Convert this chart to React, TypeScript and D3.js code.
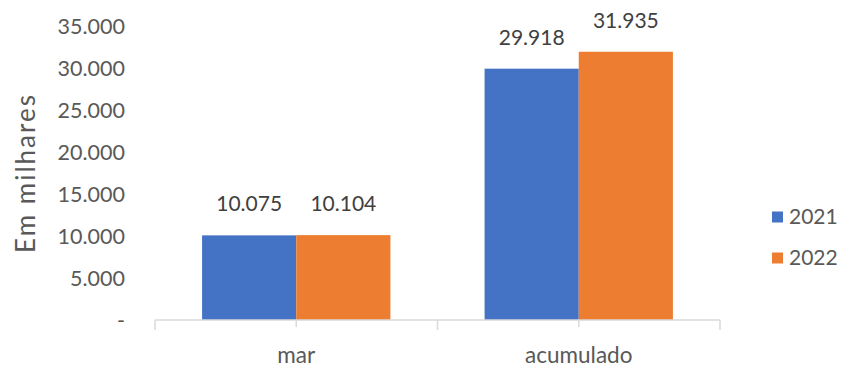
import React from "react";
import * as d3 from "d3";

const categories = ["mar", "acumulado"];
const seriesNames = ["2021", "2022"];
const values2021 = [10075, 29918];
const values2022 = [10104, 31935];
const yTicks = [0, 5000, 10000, 15000, 20000, 25000, 30000, 35000];
const colors = ["#4472C4", "#ED7D31"];

const W = 846, H = 369;
const font = "Lato, 'Open Sans', sans-serif";

const fmt = (v: number) => (v === 0 ? "-" : d3.format(",")(v).replace(/,/g, "."));

export default function App() {
  const x = d3.scaleBand<string>().domain(categories).range([155, 720]).paddingInner(0).paddingOuter(0);
  const y = d3.scaleLinear().domain([0, 35000]).range([320, 26]);
  const sub = d3.scaleBand<string>().domain(seriesNames).range([0, x.bandwidth()]).paddingInner(0).paddingOuter(0.5);
  const series = [values2021, values2022];
  const bottom = y(0);
  return (
    <svg width={W} height={H} style={{ position: "absolute", left: 0, top: 0, background: "#fff" }} fontFamily={font}>
      {yTicks.map((t) => (
        <text key={t} x={125} y={y(t)} dy="0.35em" textAnchor="end" fontSize={21.5} fill="#595959">{fmt(t)}</text>
      ))}
      <text transform={`translate(35,173) rotate(-90)`} textAnchor="middle" fontSize={26} letterSpacing={2} fill="#595959">Em milhares</text>
      {categories.map((c, i) => (
        <g key={c}>
          {series.map((s, j) => {
            const bx = (x(c) as number) + (sub(seriesNames[j]) as number);
            return (
              <g key={j}>
                <rect x={bx} y={y(s[i])} width={sub.bandwidth()} height={bottom - y(s[i])} fill={colors[j]} />
                <text x={bx + sub.bandwidth() / 2} y={y(s[i]) - 24} textAnchor="middle" fontSize={21} fill="#404040">{fmt(s[i])}</text>
              </g>
            );
          })}
          <text x={(x(c) as number) + x.bandwidth() / 2} y={355} dy="0.35em" textAnchor="middle" fontSize={22.5} fill="#595959">{c}</text>
        </g>
      ))}
      <line x1={155} x2={720} y1={bottom} y2={bottom} stroke="#d9d9d9" strokeWidth={1.5} />
      {[...categories.map((c) => x(c) as number), 720].map((tx, i) => (
        <line key={"t" + i} x1={tx} x2={tx} y1={bottom} y2={bottom + 10} stroke="#d9d9d9" strokeWidth={1.5} />
      ))}
      {categories.map((c) => (
        <line key={"m" + c} x1={(x(c) as number) + x.bandwidth() / 2} x2={(x(c) as number) + x.bandwidth() / 2} y1={bottom} y2={bottom + 7} stroke="#d9d9d9" strokeWidth={1.5} />
      ))}
      {seriesNames.map((n, j) => (
        <g key={n} transform={`translate(772,${217 + j * 41})`}>
          <rect x={0} y={-5.5} width={11} height={11} fill={colors[j]} />
          <text x={17} y={0} dy="0.35em" fontSize={21} fill="#595959">{n}</text>
        </g>
      ))}
    </svg>
  );
}
